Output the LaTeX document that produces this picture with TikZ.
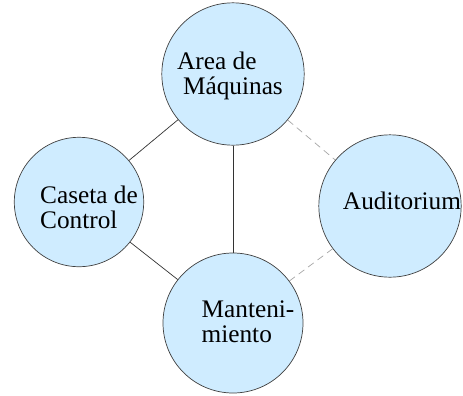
\documentclass[tikz,border=0pt]{standalone}
\usepackage{fontspec}
\setmainfont{Liberation Serif}
\usepackage{tikz}

\definecolor{areablue}{RGB}{207,236,255}

\begin{document}
\begin{tikzpicture}
[x=0.85pt,y=-0.85pt,
 area/.style={circle,draw=black!75,line width=0.6pt,fill=areablue,inner sep=0pt},
 txt/.style={align=left,inner sep=0pt,font=\fontsize{21.5}{21}\selectfont},
 link/.style={draw=black!80,line width=0.6pt},
 dlink/.style={draw=black!35,line width=0.6pt,dash pattern=on 6pt off 4pt}]
\useasboundingbox (0,0) rectangle (463,395);
\node[area,minimum size=121pt] (maq) at (233,74) {};
\node[area,minimum size=110pt] (cas) at (79,202) {};
\node[area,minimum size=121pt] (aud) at (390,206) {};
\node[area,minimum size=119pt] (man) at (233,323) {};
\node[txt] (maqT) at (230,76) {Area de\\\hspace{5pt}Máquinas};
\node[txt] (casT) at (89,207) {Caseta de\\Control};
\node[txt] (audT) at (402,201) {Auditorium};
\node[txt] (manT) at (248,322) {Manteni-\\miento};
\foreach \from/\to in {maq/cas,maq/man,cas/man}
\draw[link] (\from) -- (\to);
\foreach \from/\to in {maq/aud,aud/man}
\draw[dlink] (\from) -- (\to);

\end{tikzpicture}
\end{document}
